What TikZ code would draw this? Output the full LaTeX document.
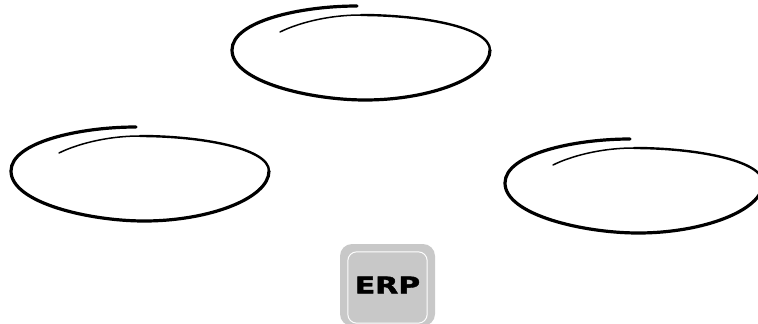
\documentclass[tikz,border=0pt]{standalone}
\usepackage{fontspec}
\newfontfamily\erpfont[FakeBold=1.6]{DejaVu Sans Bold}
\usepackage{xcolor}
\usepackage{tikz}
\usetikzlibrary{calc}
\usetikzlibrary{positioning}

\definecolor{erpgray}{RGB}{200,200,200}

\begin{document}
\begin{tikzpicture}[x=1pt, y=-1pt]

        % Hand drawn loop, drawn round its own centre
        \tikzset{
            pics/sketchloop/.style={
                code={
                    \draw[line width=3.2pt, line cap=round]
                        (-4,-51) .. controls (-60,-51) and (-129,-36) .. (-129,-7)
                        .. controls (-129,25) and (-50,43) .. (4,43)
                        .. controls (70,43) and (129,20) .. (129,-7);
                    \draw[line width=2.4pt, line cap=round]
                        (129,-7) .. controls (129,-30) and (60,-42) .. (0,-42);
                    \draw[line width=1.5pt, line cap=round]
                        (0,-42) .. controls (-35,-42) and (-65,-33) .. (-81,-25);
                }
            },
            erpbox/.style={fill=erpgray, rounded corners=12pt,
                minimum width=95pt, minimum height=82pt,
                font=\erpfont\fontsize{23}{23}\selectfont}
        }

        \useasboundingbox (0,0) rectangle (758,324);

        % Scope used for the three loops
        \begin{scope}
            \pic (LoopTop) at (361,57) {sketchloop};
            \pic (LoopLeft) at (140,178) {sketchloop};
            \pic (LoopRight) at (634,190) {sketchloop};
        \end{scope}

        \node[erpbox] (ERP) at (387.5,285) {\scalebox{1.3}[1]{ERP}};
        \draw[white, line width=1pt, rounded corners=9pt]
            ([shift={(8,8)}]ERP.north west) rectangle ([shift={(-8,-3)}]ERP.south east);

\end{tikzpicture}
\end{document}
